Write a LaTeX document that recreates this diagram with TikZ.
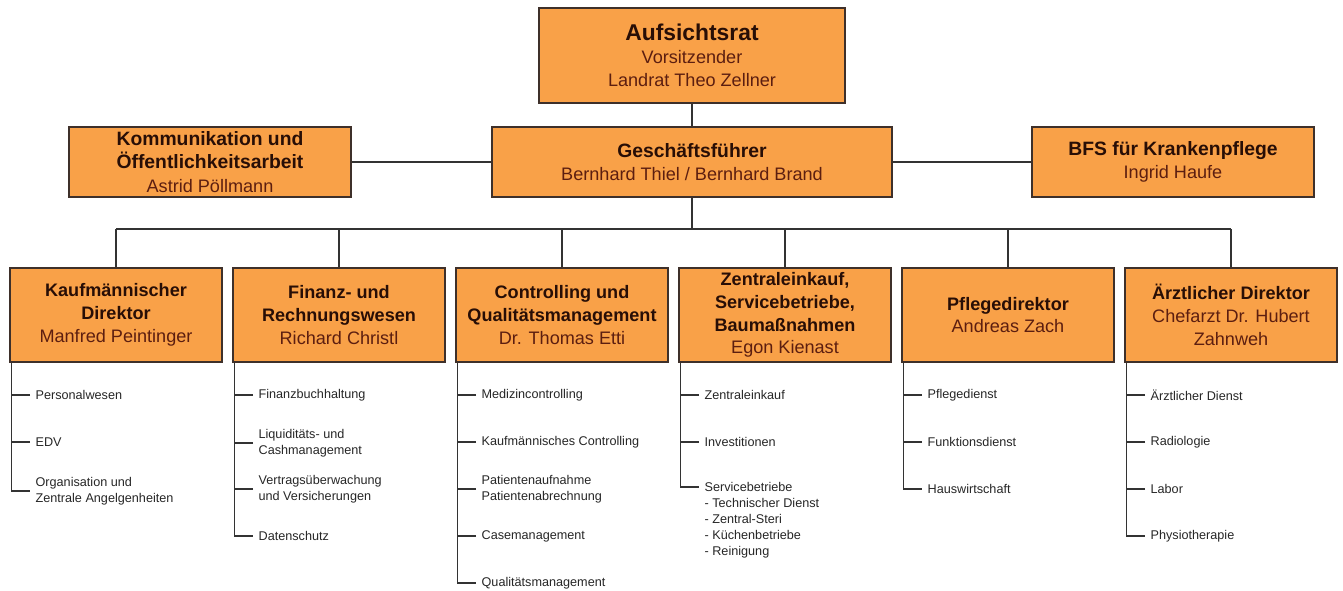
\documentclass[tikz,border=0pt]{standalone}
\usepackage{fontspec}
\setmainfont{Liberation Sans}
\usetikzlibrary{positioning}
\definecolor{boxorange}{RGB}{249,161,72}
\definecolor{boxline}{RGB}{62,48,42}
\definecolor{titletext}{RGB}{40,14,6}
\definecolor{nametext}{RGB}{92,30,16}
\newcommand{\unithead}[1]{{\bfseries\color{titletext}#1}}

\begin{document}
\begin{tikzpicture}[
        x=0.02cm, y=-0.02cm,
        unit/.style={
          rectangle,
          draw=boxline,
          line width=0.8pt,
          fill=boxorange,
          align=center,
          inner sep=2pt,
          text=nametext,
          font=\fontsize{10.3}{13}\selectfont
        },
        topunit/.style={
          unit,
          minimum width=5.64cm,
          minimum height=1.4cm,
          font=\fontsize{10.3}{13.5}\selectfont
        },
        dept/.style={
          unit,
          minimum width=4.24cm,
          minimum height=1.88cm
        },
        item/.style={
          anchor=west,
          align=left,
          inner sep=3pt,
          text=black!85,
          font=\fontsize{7.2}{9}\selectfont
        },
        link/.style={
          line width=0.6pt,
          draw=black!80
        }
      ]

      \useasboundingbox (0,0) rectangle (1343,591);

      % Leitung
      \node[unit, minimum width=6.12cm, minimum height=1.9cm] (rat) at (692,55.5)
        {{\fontsize{13}{14}\selectfont\unithead{Aufsichtsrat}}\\Vorsitzender\\Landrat Theo Zellner};
      \node[topunit, minimum width=8cm] (gf) at (692,162)
        {{\fontsize{11}{13}\selectfont\unithead{Geschäftsführer}}\\Bernhard Thiel / Bernhard Brand};
      \node[topunit] (komm) at (210,162)
        {{\fontsize{11}{13}\selectfont\unithead{Kommunikation und}}\\{\fontsize{11}{13}\selectfont\unithead{Öffentlichkeitsarbeit}}\\Astrid Pöllmann};
      \node[topunit] (bfs) at (1173,162)
        {{\fontsize{11}{13}\selectfont\unithead{BFS für Krankenpflege}}\\Ingrid Haufe};

      \draw[link] (rat) -- (gf);
      \draw[link] (komm) -- (gf);
      \draw[link] (gf) -- (bfs);

      % Bereiche
      \node[dept] (kfm) at (116,315) {\unithead{Kaufmännischer}\\\unithead{Direktor}\\Manfred Peintinger};
      \node[dept] (fin) at (339,315) {\unithead{Finanz- und}\\\unithead{Rechnungswesen}\\Richard Christl};
      \node[dept] (ctrl) at (562,315) {\unithead{Controlling und}\\\unithead{Qualitätsmanagement}\\Dr. Thomas Etti};
      \node[dept] (eink) at (785,315) {\unithead{Zentraleinkauf,}\\\unithead{Servicebetriebe,}\\\unithead{Baumaßnahmen}\\Egon Kienast};
      \node[dept] (pfl) at (1008,315) {\unithead{Pflegedirektor}\\Andreas Zach};
      \node[dept] (arzt) at (1231,315) {\unithead{Ärztlicher Direktor}\\Chefarzt Dr. Hubert\\Zahnweh};

      \coordinate (bus) at (692,229);
      \draw[link] (gf) -- (bus);
      \draw[link] (kfm.north |- bus) -- (arzt.north |- bus);
      \draw[link] (kfm.north |- bus) -- (kfm.north);
      \draw[link] (fin.north |- bus) -- (fin.north);
      \draw[link] (ctrl.north |- bus) -- (ctrl.north);
      \draw[link] (eink.north |- bus) -- (eink.north);
      \draw[link] (pfl.north |- bus) -- (pfl.north);
      \draw[link] (arzt.north |- bus) -- (arzt.north);

      % Abteilungen
      \coordinate (kspine) at ([xshift=1.2pt]kfm.south west);
      \node[item] (k1) at (30,395) {Personalwesen};
      \node[item] (k2) at (30,442) {EDV};
      \node[item] (k3) at (30,491) {Organisation und\\Zentrale Angelgenheiten};
      \draw[link] (k1.west) -- (k1.west -| kspine);
      \draw[link] (k2.west) -- (k2.west -| kspine);
      \draw[link] (kspine) |- (k3.west);

      \coordinate (fspine) at ([xshift=1.2pt]fin.south west);
      \node[item] (f1) at (253,395) {Finanzbuchhaltung};
      \node[item] (f2) at (253,443) {Liquiditäts- und\\Cashmanagement};
      \node[item] (f3) at (253,489) {Vertragsüberwachung\\und Versicherungen};
      \node[item] (f4) at (253,536) {Datenschutz};
      \draw[link] (f1.west) -- (f1.west -| fspine);
      \draw[link] (f2.west) -- (f2.west -| fspine);
      \draw[link] (f3.west) -- (f3.west -| fspine);
      \draw[link] (fspine) |- (f4.west);

      \coordinate (cspine) at ([xshift=1.2pt]ctrl.south west);
      \node[item] (c1) at (476,395) {Medizincontrolling};
      \node[item] (c2) at (476,442) {Kaufmännisches Controlling};
      \node[item] (c3) at (476,489) {Patientenaufnahme\\Patientenabrechnung};
      \node[item] (c4) at (476,536) {Casemanagement};
      \node[item] (c5) at (476,583) {Qualitätsmanagement};
      \draw[link] (c1.west) -- (c1.west -| cspine);
      \draw[link] (c2.west) -- (c2.west -| cspine);
      \draw[link] (c3.west) -- (c3.west -| cspine);
      \draw[link] (c4.west) -- (c4.west -| cspine);
      \draw[link] (cspine) |- (c5.west);

      \coordinate (zspine) at ([xshift=1.2pt]eink.south west);
      \node[item] (z1) at (699,395) {Zentraleinkauf};
      \node[item] (z2) at (699,442) {Investitionen};
      \node[item, anchor=north west] (z3) at (699,477)
        {Servicebetriebe\\- Technischer Dienst\\- Zentral-Steri\\- Küchenbetriebe\\- Reinigung};
      \coordinate (zser) at (699,487);
      \draw[link] (z1.west) -- (z1.west -| zspine);
      \draw[link] (z2.west) -- (z2.west -| zspine);
      \draw[link] (zspine) |- (zser);

      \coordinate (pspine) at ([xshift=1.2pt]pfl.south west);
      \node[item] (p1) at (922,395) {Pflegedienst};
      \node[item] (p2) at (922,442) {Funktionsdienst};
      \node[item] (p3) at (922,489) {Hauswirtschaft};
      \draw[link] (p1.west) -- (p1.west -| pspine);
      \draw[link] (p2.west) -- (p2.west -| pspine);
      \draw[link] (pspine) |- (p3.west);

      \coordinate (aspine) at ([xshift=1.2pt]arzt.south west);
      \node[item] (a1) at (1145,395) {Ärztlicher Dienst};
      \node[item] (a2) at (1145,442) {Radiologie};
      \node[item] (a3) at (1145,489) {Labor};
      \node[item] (a4) at (1145,536) {Physiotherapie};
      \draw[link] (a1.west) -- (a1.west -| aspine);
      \draw[link] (a2.west) -- (a2.west -| aspine);
      \draw[link] (a3.west) -- (a3.west -| aspine);
      \draw[link] (aspine) |- (a4.west);

    \end{tikzpicture}
\end{document}
